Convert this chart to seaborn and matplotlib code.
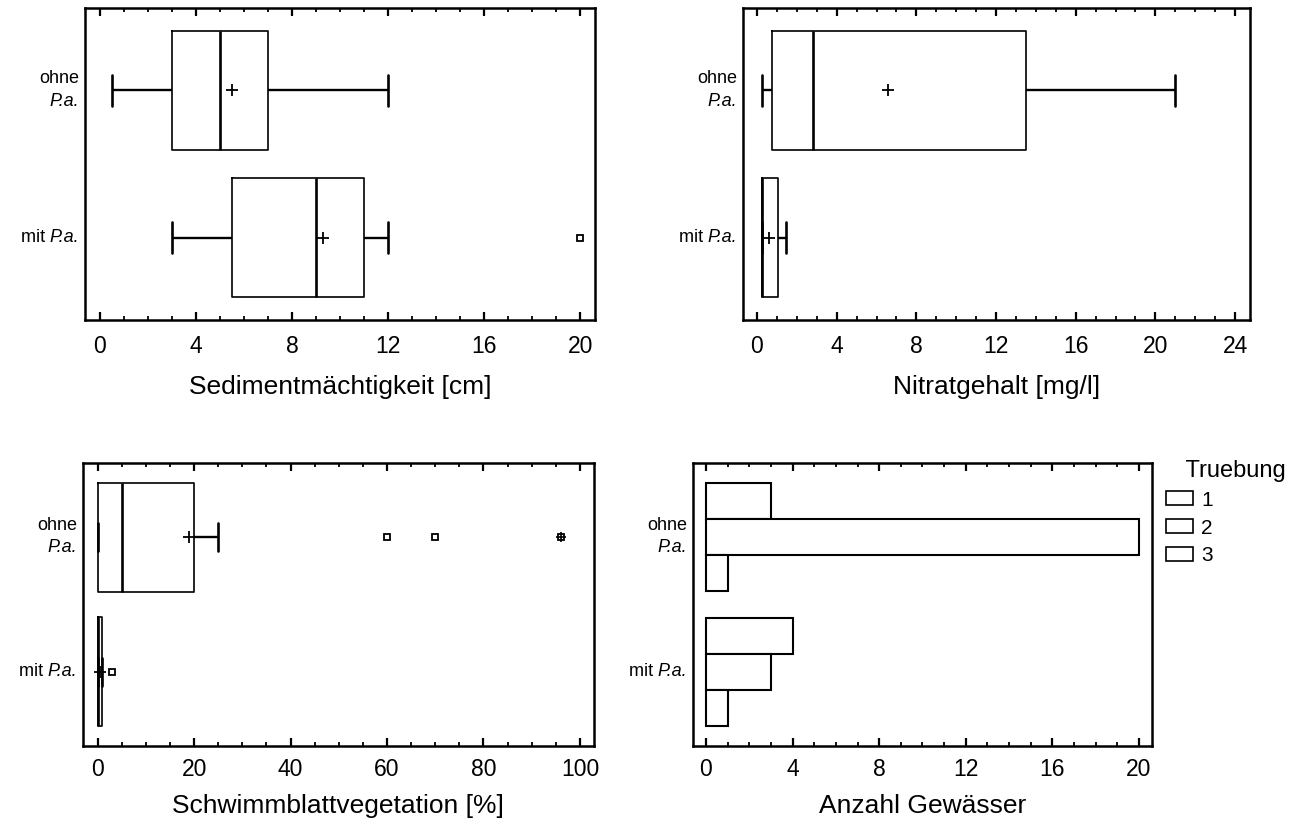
import numpy as np
import pandas as pd
import seaborn as sns
import matplotlib
matplotlib.use("Agg")
import matplotlib.pyplot as plt
from matplotlib.ticker import MultipleLocator
from matplotlib.transforms import blended_transform_factory

sns.set_theme(style="white")
plt.rcParams['font.family'] = ['Liberation Sans', 'DejaVu Sans']

# ---------------- data ----------------
groups = ["ohne P.a.", "mit P.a."]
group_prefix = ["ohne", "mit"]
species_abbr = "P.a."

sediment_ohne = [0.5, 2, 3, 4, 5, 6, 7, 10, 12]
sediment_mit = [3, 4, 5.5, 8.2, 9, 11, 11, 12, 20]

nitrat_ohne = [0.25, 0.5, 0.75, 1.5, 2.8, 3.6, 13.5, 15.5, 21]
nitrat_mit = [0.25, 0.25, 0.25, 0.25, 0.25, 0.6, 1.05, 1.23, 1.45]

schwimm_ohne = [0, 0, 0, 0, 0, 1, 2, 3, 5, 10, 15, 16, 20, 25, 60, 70, 96]
schwimm_mit = [0, 0, 0, 0, 0, 0, 0, 0, 0, 0.5, 0.5, 0.5, 1, 1, 1, 1, 3]
schwimm_extrem_ohne = [96]

truebung = ["1", "2", "3"]
anzahl_ohne = [3, 20, 1]
anzahl_mit = [4, 3, 1]

# ---------------- figure ----------------
fig = plt.figure(figsize=(12.9, 8.25), dpi=100)
ax_tl = fig.add_axes([0.0659, 0.6121, 0.3953, 0.3782])
ax_tr = fig.add_axes([0.5760, 0.6121, 0.3930, 0.3782])
ax_bl = fig.add_axes([0.0643, 0.0960, 0.3961, 0.3428])
ax_br = fig.add_axes([0.5372, 0.0960, 0.3558, 0.3428])

TICK_FS = 16.5
LABEL_FS = 19
YT_FS = 13


def group_labels(ax):
    ax.set_yticks(range(len(groups)))
    ax.set_yticklabels([])
    tr = blended_transform_factory(ax.transAxes, ax.transData)
    # first group: two lines, "ohne" above italic "P.a."
    ax.annotate(group_prefix[0], xy=(0, 0), xycoords=tr, xytext=(-4, 2.5),
                textcoords='offset points', ha='right', va='bottom',
                fontsize=YT_FS, color='black', annotation_clip=False)
    ax.annotate(species_abbr, xy=(0, 0), xycoords=tr, xytext=(-4, -1.5),
                textcoords='offset points', ha='right', va='top',
                fontsize=YT_FS, style='italic', color='black',
                annotation_clip=False)
    # second group: one line "mit P.a."
    t = ax.annotate(species_abbr, xy=(0, 1), xycoords=tr, xytext=(-4, 0),
                    textcoords='offset points', ha='right', va='center',
                    fontsize=YT_FS, style='italic', color='black',
                    annotation_clip=False)
    ax.annotate(group_prefix[1] + " ", xy=(0, 0), xycoords=t, ha='right',
                va='bottom', fontsize=YT_FS, color='black',
                annotation_clip=False)


def style_axis(ax, xlim, ylim, major, minor, xlabel, tpad, lpad):
    ax.set_xlim(*xlim)
    ax.set_ylim(*ylim)
    ax.xaxis.set_major_locator(MultipleLocator(major))
    ax.xaxis.set_minor_locator(MultipleLocator(minor))
    ax.tick_params(axis='x', which='both', direction='in', top=True, bottom=True,
                   labeltop=False, colors='black', labelsize=TICK_FS, pad=tpad)
    ax.tick_params(axis='x', which='major', length=6, width=1.6)
    ax.tick_params(axis='x', which='minor', length=3, width=1.3)
    ax.tick_params(axis='y', which='both', length=0)
    for s in ax.spines.values():
        s.set_color('black')
        s.set_linewidth(1.8)
        s.set_visible(True)
    ax.set_xlabel(xlabel, fontsize=LABEL_FS, labelpad=lpad, color='black')
    ax.set_ylabel("")
    group_labels(ax)


def draw_box(ax, ohne, mit):
    df = pd.DataFrame({
        "Gruppe": [groups[0]] * len(ohne) + [groups[1]] * len(mit),
        "Wert": list(ohne) + list(mit),
    })
    sns.boxplot(
        data=df, x="Wert", y="Gruppe", order=groups, ax=ax,
        fill=False, color="black", width=0.81, linewidth=1.2, whis=1.5,
        showmeans=True,
        meanprops=dict(marker='+', markeredgecolor='black', markersize=8,
                       markeredgewidth=1.3),
        flierprops=dict(marker='s', markersize=5, markerfacecolor='none',
                        markeredgecolor='black', markeredgewidth=1.3),
        whiskerprops=dict(linewidth=1.7, color='black'),
        capprops=dict(linewidth=1.9, color='black'),
        medianprops=dict(linewidth=1.9, color='black'),
        capwidths=0.21,
    )


draw_box(ax_tl, sediment_ohne, sediment_mit)
style_axis(ax_tl, (-0.62, 20.62), (1.56, -0.56), 4, 1,
           "Sedimentmächtigkeit [cm]", 11, 12)

draw_box(ax_tr, nitrat_ohne, nitrat_mit)
style_axis(ax_tr, (-0.7, 24.75), (1.56, -0.56), 4, 1,
           "Nitratgehalt [mg/l]", 11, 12)

draw_box(ax_bl, schwimm_ohne, schwimm_mit)
ax_bl.plot(schwimm_extrem_ohne, [0] * len(schwimm_extrem_ohne), linestyle='none',
           marker='+', markersize=7, markeredgecolor='black', markeredgewidth=1.2)
style_axis(ax_bl, (-3.05, 102.9), (1.55, -0.55), 20, 5,
           "Schwimmblattvegetation [%]", 8.5, 10)

# bar chart
df_bar = pd.DataFrame({
    "Gruppe": [groups[0]] * len(truebung) + [groups[1]] * len(truebung),
    "Truebung": truebung + truebung,
    "Anzahl": anzahl_ohne + anzahl_mit,
})
sns.barplot(data=df_bar, x="Anzahl", y="Gruppe", hue="Truebung", order=groups,
            hue_order=truebung, palette=['white', 'white', 'white'],
            edgecolor='black', linewidth=1.5, width=0.8, errorbar=None, ax=ax_br)
style_axis(ax_br, (-0.6, 20.6), (1.55, -0.55), 4, 1, "Anzahl Gewässer", 8.5, 10)
leg = ax_br.legend(title="   Truebung", loc='upper left', bbox_to_anchor=(1.012, 1.04),
                   frameon=False, fontsize=15, title_fontsize=17,
                   handlelength=1.3, handleheight=0.65, handletextpad=0.4,
                   labelspacing=0.42, borderaxespad=0.2, borderpad=0.2)
leg._legend_box.align = "left"
leg.get_title().set_color('black')
for txt in leg.get_texts():
    txt.set_color('black')
for h in leg.legend_handles:
    h.set_edgecolor('black')
    h.set_linewidth(1.2)

fig.savefig("out.png", dpi=100)
